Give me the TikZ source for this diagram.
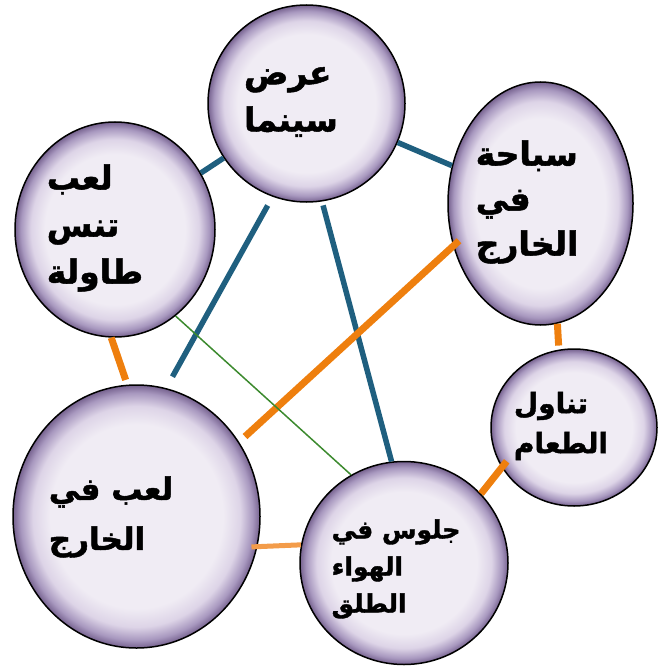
\documentclass[tikz,border=0pt]{standalone}
\usepackage{fontspec}
\usetikzlibrary{shapes.geometric}
\TeXXeTstate=1
\newfontfamily\arabicfont[Script=Arabic, BoldFeatures={FakeBold=1.5}]{DejaVu Sans}
\definecolor{edgeblue}{HTML}{1F5F7F}
\definecolor{edgeorange}{HTML}{EE7F0E}
\definecolor{edgelightorange}{HTML}{F39C4A}
\definecolor{edgegreen}{HTML}{3C8A2E}
\definecolor{bubin}{HTML}{F0ECF4}
\definecolor{bubmid}{HTML}{DDD4E7}
\definecolor{bubrim}{HTML}{A898BF}
\definecolor{bubout}{HTML}{76628F}
\pgfdeclareradialshading{bubble}{\pgfpoint{0bp}{0bp}}{color(0bp)=(bubin); color(17.5bp)=(bubin); color(21bp)=(bubmid); color(23.5bp)=(bubrim); color(25bp)=(bubout); color(50bp)=(bubout)}
\begin{document}
\begin{tikzpicture}[x=1pt,y=-1pt,
  bubblestyle/.style={ellipse, draw=black, line width=1.5pt, shading=bubble, inner sep=0pt},
  lbl/.style={font=\arabicfont\bfseries\fontsize{33}{47}\selectfont, align=left, inner sep=0pt},
  blueedge/.style={draw=edgeblue, line width=5.5pt},
  orangeedge/.style={draw=edgeorange, line width=7pt},
  lightorangeedge/.style={draw=edgelightorange, line width=5pt},
  greenedge/.style={draw=edgegreen, line width=1.5pt}]
\useasboundingbox (0,0) rectangle (670,671);
\node[bubblestyle, minimum width=197pt, minimum height=197pt] (cinema) at (306.5,103.5) {};
\node[bubblestyle, minimum width=200pt, minimum height=215pt] (tennis) at (115,229.5) {};
\node[bubblestyle, minimum width=185pt, minimum height=243pt] (swim) at (540.5,203.5) {};
\node[bubblestyle, minimum width=166pt, minimum height=157pt] (eating) at (574,427.5) {};
\node[bubblestyle, minimum width=247pt, minimum height=263pt] (play) at (136.5,516.5) {};
\node[bubblestyle, minimum width=208pt, minimum height=203pt] (sitting) at (404,563) {};

\node[lbl] (cinemaT) at (291,102) {\beginR عرض\endR\\\beginR سينما\endR};
\node[lbl] (tennisT) at (95,228) {\beginR لعب\endR\\\beginR تنس\endR\\\beginR طاولة\endR};
\node[lbl, font=\arabicfont\bfseries\fontsize{33}{45}\selectfont] (swimT) at (527,202) {\beginR سباحة\endR\\\beginR في\endR\\\beginR الخارج\endR};
\node[lbl, font=\arabicfont\bfseries\fontsize{31}{50}\selectfont] (playT) at (111,517) {\beginR لعب في\endR\\\beginR الخارج\endR};
\node[lbl, font=\arabicfont\bfseries\fontsize{28}{40}\selectfont] (eatT) at (561,426) {\beginR تناول\endR\\\beginR الطعام\endR};
\node[lbl, font=\arabicfont\bfseries\fontsize{25}{37}\selectfont] (sitT) at (396,569) {\beginR جلوس في\endR\\\beginR الهواء\endR\\\beginR الطلق\endR};

\draw[blueedge] (tennis) -- (cinema);
\draw[blueedge] (cinema) -- (swim);
\draw[blueedge, shorten <=10pt, shorten >=13pt] (cinema.250) -- (play.77);
\draw[blueedge, shorten <=4pt] (cinema.279) -- (sitting.97);
\draw[orangeedge, shorten <=-8pt, shorten >=8pt] (swim.206) -- (play.36);
\draw[orangeedge, shorten >=5pt] (tennis.268) -- (play.94);
\draw[orangeedge, shorten >=4pt] (swim.278) -- (eating.101);
\draw[orangeedge, shorten <=-8pt] (eating.209) -- (sitting.42);
\draw[lightorangeedge, shorten <=-6pt] (play.346) -- (sitting.170.4);
\draw[greenedge] (tennis.305) -- (sitting.121);
\end{tikzpicture}
\end{document}
